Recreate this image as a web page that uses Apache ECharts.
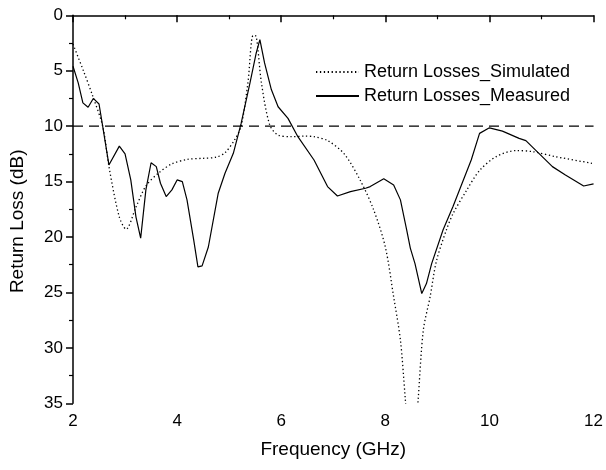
<!DOCTYPE html>
<html>
<head>
<meta charset="utf-8">
<script src="https://cdn.jsdelivr.net/npm/echarts@6/dist/echarts.min.js"></script>
<style>html,body{margin:0;padding:0;background:#fff;}#chart{width:606px;height:470px;}</style>
</head>
<body>
<div id="chart"></div>
<script>
var simFreq = [2.00, 2.20, 2.38, 2.57, 2.70, 2.89, 3.02, 3.21, 3.40, 3.65, 3.90, 4.20, 4.50, 4.75, 4.92, 5.11, 5.23, 5.36, 5.46, 5.52, 5.62, 5.78, 5.94, 6.19, 6.45, 6.63, 6.89, 7.21, 7.52, 7.78, 8.00, 8.16, 8.29, 8.38, 8.51, 8.63, 8.73, 8.86, 8.98, 9.17, 9.30, 9.56, 9.81, 10.13, 10.51, 10.83, 11.27, 11.97];
var simLoss = [2.6, 5.0, 7.3, 10.0, 13.9, 18.2, 19.3, 17.3, 15.4, 14.2, 13.4, 13.0, 12.9, 12.8, 12.4, 11.2, 10.0, 6.1, 1.8, 1.9, 6.1, 9.9, 10.8, 10.95, 10.9, 10.95, 11.3, 12.5, 14.9, 17.6, 20.9, 25.4, 29.3, 34.4, 42.0, 34.7, 28.4, 25.4, 22.2, 19.4, 17.9, 15.8, 14.0, 12.75, 12.2, 12.3, 12.75, 13.35];
var measFreq = [2.00, 2.10, 2.19, 2.29, 2.39, 2.50, 2.57, 2.69, 2.89, 3.00, 3.11, 3.21, 3.30, 3.40, 3.50, 3.60, 3.68, 3.79, 3.90, 4.00, 4.10, 4.19, 4.32, 4.40, 4.48, 4.60, 4.79, 4.92, 5.08, 5.23, 5.40, 5.52, 5.59, 5.68, 5.81, 5.94, 6.13, 6.32, 6.63, 6.89, 7.08, 7.33, 7.62, 7.71, 7.97, 8.16, 8.29, 8.41, 8.48, 8.57, 8.70, 8.79, 8.89, 9.11, 9.30, 9.65, 9.81, 10.00, 10.25, 10.57, 10.70, 10.95, 11.21, 11.46, 11.81, 12.00];
var measLoss = [4.6, 6.1, 7.9, 8.3, 7.5, 8.0, 10.0, 13.5, 11.8, 12.5, 14.85, 18.2, 20.1, 15.75, 13.3, 13.65, 15.15, 16.35, 15.75, 14.85, 15.0, 16.65, 20.3, 22.7, 22.6, 20.9, 16.05, 14.25, 12.45, 9.75, 6.1, 3.4, 2.2, 4.3, 6.7, 8.25, 9.3, 10.95, 13.05, 15.45, 16.3, 15.9, 15.6, 15.45, 14.75, 15.3, 16.65, 19.35, 21.0, 22.4, 25.1, 24.2, 22.4, 19.35, 17.25, 13.05, 10.65, 10.15, 10.45, 11.1, 11.3, 12.45, 13.65, 14.4, 15.4, 15.2];
var refFreq = [2, 12];
var refLoss = [10, 10];
var seriesNames = ['Return Losses_Simulated', 'Return Losses_Measured'];
var xTicks = [2, 4, 6, 8, 10, 12];
var yTicks = [0, 5, 10, 15, 20, 25, 30, 35];

function pairs(xs, ys) { return xs.map(function (x, i) { return [x, ys[i]]; }); }

var FONT = 'Liberation Sans, Arial, Helvetica, sans-serif';
var chart = echarts.init(document.getElementById('chart'), null, { renderer: 'canvas' });
chart.setOption({
  animation: false,
  backgroundColor: '#ffffff',
  grid: { left: 70, right: 11, top: 15.3, bottom: 66.7, containLabel: false },
  legend: {
    data: seriesNames,
    orient: 'vertical',
    left: 315,
    top: 63,
    padding: 0,
    itemWidth: 43,
    itemHeight: 14,
    itemGap: 6,
    itemStyle: { opacity: 0 },
    textStyle: { fontFamily: FONT, fontSize: 18, color: '#000' }
  },
  xAxis: {
    type: 'value',
    min: xTicks[0],
    max: xTicks[xTicks.length - 1],
    interval: 2,
    name: 'Frequency (GHz)',
    nameLocation: 'middle',
    nameGap: 37,
    nameTextStyle: { fontFamily: FONT, fontSize: 19, color: '#000' },
    axisLine: { show: true, lineStyle: { color: '#000', width: 1.5 } },
    axisTick: { show: true, inside: false, length: 7, lineStyle: { color: '#000', width: 1.5 } },
    minorTick: { show: true, splitNumber: 2, length: 4, lineStyle: { color: '#000', width: 1.2 } },
    axisLabel: { fontFamily: FONT, fontSize: 17, color: '#000', margin: 10 },
    splitLine: { show: false }
  },
  yAxis: {
    type: 'value',
    inverse: true,
    min: yTicks[0],
    max: yTicks[yTicks.length - 1],
    interval: 5,
    name: 'Return Loss (dB)',
    nameLocation: 'middle',
    nameGap: 46,
    nameTextStyle: { fontFamily: FONT, fontSize: 19, color: '#000', padding: [0, 24, 0, 0] },
    axisLine: { show: true, lineStyle: { color: '#000', width: 1.5 } },
    axisTick: { show: true, inside: false, length: 7, lineStyle: { color: '#000', width: 1.5 } },
    minorTick: { show: true, splitNumber: 2, length: 4, lineStyle: { color: '#000', width: 1.2 } },
    axisLabel: { fontFamily: FONT, fontSize: 17, color: '#000', margin: 10 },
    splitLine: { show: false }
  },
  series: [
    {
      name: seriesNames[0],
      type: 'line',
      data: pairs(simFreq, simLoss),
      symbol: 'none',
      smooth: 0.3,
      clip: true,
      lineStyle: { color: '#000', width: 1.3, type: [1.3, 2.6] },
      itemStyle: { color: '#000' }
    },
    {
      name: seriesNames[1],
      type: 'line',
      data: pairs(measFreq, measLoss),
      symbol: 'none',
      smooth: false,
      clip: true,
      lineStyle: { color: '#000', width: 1.2, type: 'solid' },
      itemStyle: { color: '#000' }
    },
    {
      name: 'ref',
      type: 'line',
      data: pairs(refFreq, refLoss),
      symbol: 'none',
      silent: true,
      lineStyle: { color: '#000', width: 1.1, type: [10, 6] },
      itemStyle: { color: '#000' }
    }
  ]
});
</script>
</body>
</html>
